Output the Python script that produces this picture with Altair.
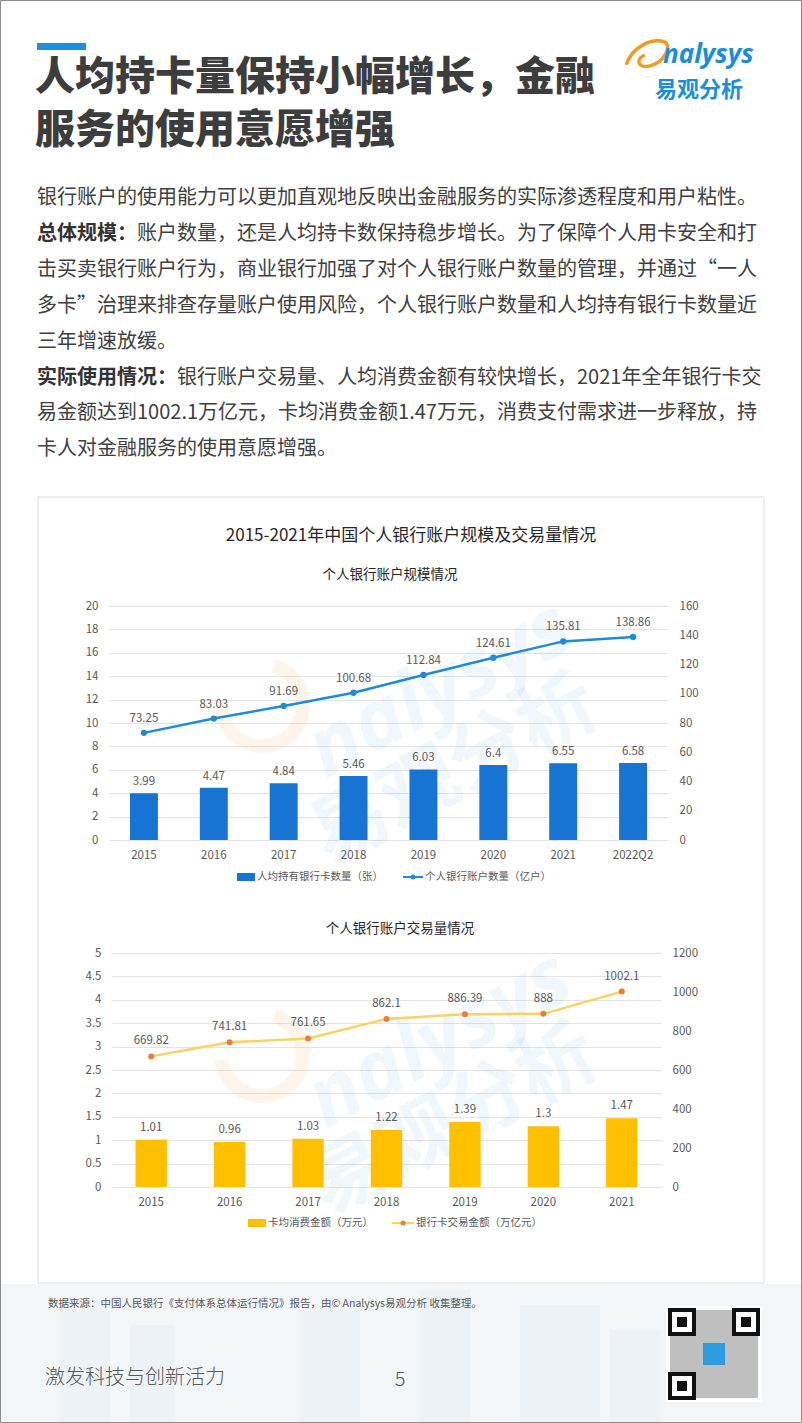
import altair as alt
import pandas as pd

# ---------------- data ----------------
years_scale = ["2015", "2016", "2017", "2018", "2019", "2020", "2021", "2022Q2"]
cards_per_person = [3.99, 4.47, 4.84, 5.46, 6.03, 6.4, 6.55, 6.58]
personal_accounts = [73.25, 83.03, 91.69, 100.68, 112.84, 124.61, 135.81, 138.86]

years_txn = ["2015", "2016", "2017", "2018", "2019", "2020", "2021"]
spend_per_card = [1.01, 0.96, 1.03, 1.22, 1.39, 1.3, 1.47]
card_txn_amount = [669.82, 741.81, 761.65, 862.1, 886.39, 888, 1002.1]

ticks_left1 = [0, 2, 4, 6, 8, 10, 12, 14, 16, 18, 20]
ticks_right1 = [0, 20, 40, 60, 80, 100, 120, 140, 160]
ticks_left2 = [0, 0.5, 1, 1.5, 2, 2.5, 3, 3.5, 4, 4.5, 5]
ticks_right2 = [0, 200, 400, 600, 800, 1000, 1200]

title_lines = ["人均持卡量保持小幅增长，金融", "服务的使用意愿增强"]
para_lines = [
    ("", "银行账户的使用能力可以更加直观地反映出金融服务的实际渗透程度和用户粘性。"),
    ("总体规模：", "账户数量，还是人均持卡数保持稳步增长。为了保障个人用卡安全和打"),
    ("", "击买卖银行账户行为，商业银行加强了对个人银行账户数量的管理，并通过“一人"),
    ("", "多卡”治理来排查存量账户使用风险，个人银行账户数量和人均持有银行卡数量近"),
    ("", "三年增速放缓。"),
    ("实际使用情况：", "银行账户交易量、人均消费金额有较快增长，2021年全年银行卡交"),
    ("", "易金额达到1002.1万亿元，卡均消费金额1.47万元，消费支付需求进一步释放，持"),
    ("", "卡人对金融服务的使用意愿增强。"),
]
main_title = "2015-2021年中国个人银行账户规模及交易量情况"
sub1 = "个人银行账户规模情况"
sub2 = "个人银行账户交易量情况"
legend1 = ["人均持有银行卡数量（张）", "个人银行账户数量（亿户）"]
legend2 = ["卡均消费金额（万元）", "银行卡交易金额（万亿元）"]
source_text = "数据来源：中国人民银行《支付体系总体运行情况》报告，由© Analysys易观分析 收集整理。"
footer_text = "激发科技与创新活力"
page_no = "5"

# ---------------- style / layout ----------------
FONT = "Noto Sans CJK SC"
W, H = 802, 1423
GREY = "#595959"
BLUE_BAR = "#1874D2"
BLUE_LINE = "#1E8BD8"
GOLD_BAR = "#FFC000"
GOLD_LINE = "#F9D25F"
ORANGE_PT = "#ED7D31"
LABEL_EXPR = "'' + datum.value"

C1 = dict(x0=109, x1=668, ybot=840, ytop=606)
C2 = dict(x0=112, x1=661, ybot=1187, ytop=953)


def fmt(v):
    return f"{v:g}"


def xscale(dom, c):
    return alt.Scale(type="band", domain=dom, range=[c["x0"], c["x1"]],
                     paddingInner=0.6, paddingOuter=0.3)


def yscale(top, c):
    return alt.Scale(domain=[0, top], range=[c["ybot"], c["ytop"]], nice=False, zero=True)


def xaxis(c):
    return alt.Axis(orient="bottom", offset=c["ybot"] - H, domain=False, ticks=False,
                    grid=False, labelPadding=9, labelAngle=0, title=None,
                    labelFont=FONT, labelFontSize=11.5, labelColor=GREY)


def yaxis_left(c, vals):
    return alt.Axis(orient="left", offset=-c["x0"], values=vals, labelExpr=LABEL_EXPR,
                    domain=False, ticks=False, grid=True, gridColor="#e3e3e3",
                    gridWidth=1, labelPadding=11, title=None,
                    labelFont=FONT, labelFontSize=11.5, labelColor=GREY)


def yaxis_right(c, vals):
    return alt.Axis(orient="right", offset=c["x1"] - W, values=vals, labelExpr=LABEL_EXPR,
                    domain=False, ticks=False, grid=False, labelPadding=11, title=None,
                    labelFont=FONT, labelFontSize=11.5, labelColor=GREY)


def text(t, x, y, size, color="#404040", weight="normal", align="left", font=FONT,
         angle=None, opacity=1, style=None, baseline="middle"):
    kw = dict(font=font, fontSize=size, color=color, fontWeight=weight, align=align,
              baseline=baseline, opacity=opacity)
    if angle is not None:
        kw["angle"] = angle
    if style is not None:
        kw["fontStyle"] = style
    return alt.Chart(pd.DataFrame({"t": [t]})).mark_text(**kw).encode(
        x=alt.value(x), y=alt.value(y), text="t:N")


def rect(x, x2, y, y2, fill=None, stroke=None, sw=1, opacity=1):
    kw = dict(opacity=opacity)
    if fill is not None:
        kw["fill"] = fill
    else:
        kw["fillOpacity"] = 0
    if stroke is not None:
        kw["stroke"] = stroke
        kw["strokeWidth"] = sw
    return alt.Chart(pd.DataFrame({"a": [0]})).mark_rect(**kw).encode(
        x=alt.value(x), x2=alt.value(x2), y=alt.value(y), y2=alt.value(y2))


def rule(x, x2, y, color, sw):
    return alt.Chart(pd.DataFrame({"a": [0]})).mark_rule(color=color, strokeWidth=sw).encode(
        x=alt.value(x), x2=alt.value(x2), y=alt.value(y))


def dot(x, y, color, size):
    return alt.Chart(pd.DataFrame({"a": [0]})).mark_point(
        filled=True, color=color, size=size, opacity=1).encode(x=alt.value(x), y=alt.value(y))


layers = []

# page background decorations (kept outside the chart box so axes stay visible)
layers.append(rect(0, W, 1284, H, fill="#f3f6f9"))
for bx, bx2, by in [(60, 110, 1300), (130, 175, 1325), (300, 360, 1310), (420, 470, 1290),
                    (520, 600, 1305), (610, 660, 1330)]:
    layers.append(rect(bx, bx2, by, H, fill="#edf2f6"))
layers.append(rect(38, 764, 497, 1283, stroke="#dcdcdc", sw=1))

# header
layers.append(rect(37, 86, 43, 50, fill="#1E8FE0"))
layers.append(text(title_lines[0], 35, 78, 40, color="#3d3d3d", weight=900))
layers.append(text(title_lines[1], 35, 131, 40, color="#3d3d3d", weight=900))

# logo
swoosh = "M -1 0.45 C -0.75 -0.35 0.15 -0.8 0.75 -0.6 C 1.1 -0.45 0.8 0.3 0.1 0.5 C -0.45 0.65 -0.6 0.2 -0.15 0.0"
layers.append(alt.Chart(pd.DataFrame({"a": [0]})).mark_point(
    shape=swoosh, filled=False, stroke="#F39A1E", strokeWidth=3.5, size=1900, opacity=1
).encode(x=alt.value(648), y=alt.value(55)))
layers.append(text("nalysys", 663, 55, 26, color="#1A8FD8", weight="bold", font="Open Sans", style="italic"))
layers.append(text("易观分析", 655, 90, 22, color="#1A8FD8", weight="bold"))

# paragraph
para_y = [198, 234, 270, 306, 342, 378, 413, 449]
for (bold, rest), yy in zip(para_lines, para_y):
    x = 37
    if bold:
        layers.append(text(bold, x, yy, 20, color="#333333", weight="bold"))
        x += 20 * len(bold)
    layers.append(text(rest, x, yy, 20, color="#404040"))

# chart titles
layers.append(text(main_title, 411, 536, 17, color="#262626", align="center"))
layers.append(text(sub1, 390, 575, 13.5, color="#262626", align="center"))
layers.append(text(sub2, 400, 929, 13.5, color="#262626", align="center"))

# watermarks
for dy in [0, 350]:
    layers.append(alt.Chart(pd.DataFrame({"a": [0]})).mark_arc(
        innerRadius=34, outerRadius=48, theta=0.3, theta2=4.6, color="#F7B36B", opacity=0.14
    ).encode(x=alt.value(262), y=alt.value(705 + dy)))
    layers.append(text("nalysys", 440, 690 + dy, 82, color="#2B8FD8", weight="bold",
                       font="Open Sans", style="italic", angle=332, opacity=0.07, align="center"))
    layers.append(text("易观分析", 455, 772 + dy, 78, color="#2B8FD8", weight="bold",
                       angle=332, opacity=0.07, align="center"))

# ---------------- chart 1 ----------------
df1 = pd.DataFrame({"year": years_scale, "cards": cards_per_person, "accounts": personal_accounts})
df1["cards_lbl"] = [fmt(v) for v in cards_per_person]
df1["acc_lbl"] = [fmt(v) for v in personal_accounts]
xs1 = xscale(years_scale, C1)
ys1L = yscale(20, C1)
ys1R = yscale(160, C1)

layers.append(alt.Chart(df1).mark_bar(color=BLUE_BAR).encode(
    x=alt.X("year:N", scale=xs1, axis=xaxis(C1)),
    y=alt.Y("cards:Q", scale=ys1L, axis=yaxis_left(C1, ticks_left1))))
layers.append(alt.Chart(df1).mark_text(font=FONT, fontSize=11.5, color=GREY, baseline="bottom", dy=-6).encode(
    x=alt.X("year:N", scale=xs1, axis=None),
    y=alt.Y("cards:Q", scale=ys1L, axis=None), text="cards_lbl:N"))
layers.append(alt.Chart(df1).mark_line(color=BLUE_LINE, strokeWidth=2.5).encode(
    x=alt.X("year:N", scale=xs1, axis=None),
    y=alt.Y("accounts:Q", scale=ys1R, axis=yaxis_right(C1, ticks_right1))))
layers.append(alt.Chart(df1).mark_point(filled=True, color=BLUE_LINE, size=40, opacity=1).encode(
    x=alt.X("year:N", scale=xs1, axis=None),
    y=alt.Y("accounts:Q", scale=ys1R, axis=None)))
layers.append(alt.Chart(df1).mark_text(font=FONT, fontSize=11.5, color=GREY, baseline="bottom", dy=-9).encode(
    x=alt.X("year:N", scale=xs1, axis=None),
    y=alt.Y("accounts:Q", scale=ys1R, axis=None), text="acc_lbl:N"))

# legend 1
layers.append(rect(237, 255, 873, 881, fill=BLUE_BAR))
layers.append(text(legend1[0], 257, 877, 10.5, color=GREY))
layers.append(rule(403, 423, 877, BLUE_LINE, 2))
layers.append(dot(413, 877, BLUE_LINE, 25))
layers.append(text(legend1[1], 425, 877, 10.5, color=GREY))

# ---------------- chart 2 ----------------
df2 = pd.DataFrame({"year": years_txn, "spend": spend_per_card, "txn": card_txn_amount})
df2["spend_lbl"] = [fmt(v) for v in spend_per_card]
df2["txn_lbl"] = [fmt(v) for v in card_txn_amount]
xs2 = xscale(years_txn, C2)
ys2L = yscale(5, C2)
ys2R = yscale(1200, C2)

layers.append(alt.Chart(df2).mark_bar(color=GOLD_BAR).encode(
    x=alt.X("year:N", scale=xs2, axis=xaxis(C2)),
    y=alt.Y("spend:Q", scale=ys2L, axis=yaxis_left(C2, ticks_left2))))
layers.append(alt.Chart(df2).mark_text(font=FONT, fontSize=11.5, color=GREY, baseline="bottom", dy=-7).encode(
    x=alt.X("year:N", scale=xs2, axis=None),
    y=alt.Y("spend:Q", scale=ys2L, axis=None), text="spend_lbl:N"))
layers.append(alt.Chart(df2).mark_line(color=GOLD_LINE, strokeWidth=2.5).encode(
    x=alt.X("year:N", scale=xs2, axis=None),
    y=alt.Y("txn:Q", scale=ys2R, axis=yaxis_right(C2, ticks_right2))))
layers.append(alt.Chart(df2).mark_point(filled=True, color=ORANGE_PT, size=36, opacity=1).encode(
    x=alt.X("year:N", scale=xs2, axis=None),
    y=alt.Y("txn:Q", scale=ys2R, axis=None)))
layers.append(alt.Chart(df2).mark_text(font=FONT, fontSize=11.5, color=GREY, baseline="bottom", dy=-10).encode(
    x=alt.X("year:N", scale=xs2, axis=None),
    y=alt.Y("txn:Q", scale=ys2R, axis=None), text="txn_lbl:N"))

# legend 2
layers.append(rect(248, 266, 1219, 1227, fill=GOLD_BAR))
layers.append(text(legend2[0], 268, 1223, 10.5, color=GREY))
layers.append(rule(392, 414, 1223, GOLD_LINE, 2))
layers.append(dot(403, 1223, ORANGE_PT, 25))
layers.append(text(legend2[1], 416, 1223, 10.5, color=GREY))

# ---------------- footer ----------------
layers.append(text(source_text, 48, 1304, 10.5, color=GREY))
layers.append(text(footer_text, 45, 1378, 20, color=GREY, weight=300))
layers.append(text(page_no, 400, 1380, 20, color=GREY, weight=300, align="center"))

# QR code placeholder
layers.append(rect(666, 762, 1306, 1402, fill="white"))
layers.append(rect(670, 758, 1310, 1398, fill="#8a8a8a", opacity=0.55))
for qx, qy in [(670, 1310), (734, 1310), (670, 1374)]:
    layers.append(rect(qx, qx + 24, qy, qy + 24, fill="white", stroke="#111111", sw=4))
    layers.append(rect(qx + 7, qx + 17, qy + 7, qy + 17, fill="#111111"))
layers.append(rect(703, 725, 1343, 1365, fill="#2D9BE0"))

# page border
layers.append(rect(0.5, W - 0.5, 0.5, H - 0.5, stroke="#8c8c8c", sw=1))

chart = alt.layer(*layers).resolve_scale(
    x="independent", y="independent"
).properties(
    width=W, height=H, padding=0, autosize="none", background="white"
).configure_view(stroke=None)

chart.save("out.html", embed_options={"renderer": "svg", "actions": False})
